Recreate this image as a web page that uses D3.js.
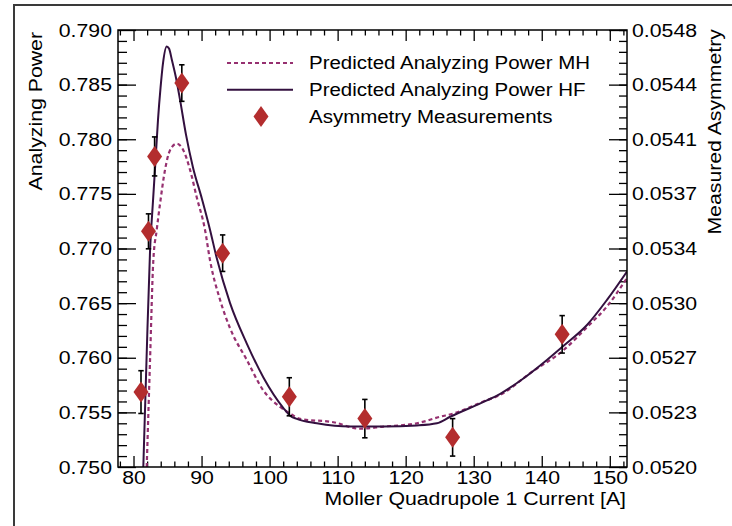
<!DOCTYPE html>
<html lang="en">
<head>
  <meta charset="utf-8">
  <title>Analyzing Power vs Moller Quadrupole Current</title>
  <script src="https://cdn.jsdelivr.net/npm/d3@7"></script>
  <style>
    body { margin: 0; background: #fff; }
    text { font-family: "Liberation Sans", Arial, sans-serif; fill: #000; }
  </style>
</head>
<body>
  <script>
    // Predicted analyzing power, MH model (current [A] / analyzing power)
    let mhCurrent = [81.94, 82.43, 82.91, 83.41, 83.90, 84.63, 85.37, 86.35, 87.32, 88.31, 89.29,
      90.51, 91.25, 92.72, 94.19, 96.65, 99.09, 101.54, 103.01, 104.49, 109.38, 113.31, 116.74,
      121.65, 125.07, 127.03, 131.44, 133.90, 138.31, 143.21, 146.65, 149.59, 152.53];
    let mhPower = [0.7500, 0.7598, 0.7689, 0.7717, 0.7741, 0.7772, 0.7790, 0.7796, 0.7790, 0.7772, 0.7747,
      0.7717, 0.7689, 0.7653, 0.7627, 0.7598, 0.7570, 0.7555, 0.7549, 0.7544, 0.7541, 0.7535, 0.7537,
      0.7540, 0.7546, 0.7549, 0.7560, 0.7566, 0.7586, 0.7607, 0.7628, 0.7647, 0.7673];
    // Predicted analyzing power, HF model
    let hfCurrent = [81.44, 81.91, 82.43, 82.87, 83.24, 83.60, 83.97, 84.34, 84.88, 85.22, 85.66, 86.25,
      86.84, 87.72, 88.75, 90.03, 91.25, 92.24, 94.19, 96.65, 99.09, 102.03, 103.01, 104.00, 106.94,
      111.84, 116.74, 121.65, 124.59, 126.54, 131.94, 133.90, 136.84, 140.76, 143.21, 146.65, 149.59, 152.53];
    let hfPower = [0.7500, 0.7598, 0.7698, 0.7744, 0.7781, 0.7818, 0.7847, 0.7870, 0.7885, 0.7883, 0.7872, 0.7856,
      0.7836, 0.7804, 0.7774, 0.7746, 0.7717, 0.7691, 0.7650, 0.7613, 0.7582, 0.7554, 0.7547, 0.7544, 0.7540,
      0.7537, 0.7537, 0.7538, 0.7540, 0.7546, 0.7561, 0.7567, 0.7579, 0.7598, 0.7611, 0.7630, 0.7653, 0.7679];
    // Asymmetry measurements (right axis)
    let measCurrent = [81.1, 82.2, 83.1, 87.1, 93.1, 102.9, 114.0, 126.9, 143.0];
    let measAsym = [0.05248, 0.05351, 0.05399, 0.05446, 0.05337, 0.05245, 0.05231, 0.05219, 0.05285];
    let measErr = [0.000137, 0.000112, 0.000125, 0.000117, 0.000117, 0.000122, 0.000123, 0.000120, 0.000120];

    let xTicks = [80, 90, 100, 110, 120, 130, 140, 150];
    let leftTicks = [0.750, 0.755, 0.760, 0.765, 0.770, 0.775, 0.780, 0.785, 0.790];
    let rightTicks = [0.05200, 0.05235, 0.05270, 0.05305, 0.05340, 0.05375, 0.05410, 0.05445, 0.05480];
    let rightTickLabels = ["0.0520", "0.0523", "0.0527", "0.0530", "0.0534", "0.0537", "0.0541", "0.0544", "0.0548"];
    let legendLabels = ["Predicted Analyzing Power MH", "Predicted Analyzing Power HF", "Asymmetry Measurements"];

    let svgWidth = 732, svgHeight = 526;
    let margins = { left: 118, top: 30, right: 105, bottom: 59 };
    let width = svgWidth - margins.left - margins.right;
    let height = svgHeight - margins.top - margins.bottom;
    let fontSize = 19, sx = 1.12; // text in the picture is a bit wide
    let mhColor = "#963070", hfColor = "#33103f", markColor = "#b32d2e";

    let svg = d3.select("body").append("svg")
      .attr("width", svgWidth)
      .attr("height", svgHeight);

    // outer canvas frame
    svg.append("path")
      .attr("d", "M14,526 V5 H732")
      .attr("fill", "none").attr("stroke", "#3a3a3a").attr("stroke-width", 2);

    let container = svg.append("g")
      .attr("transform", `translate(${margins.left}, ${margins.top})`);

    // scales
    let xScale = d3.scaleLinear().domain([77.72, 152.53]).range([0, width]);
    let yScale = d3.scaleLinear().domain([0.750, 0.790]).range([height, 0]);
    let yRight = d3.scaleLinear().domain([0.0520, 0.0548]).range([height, 0]);

    // stretch tick label text horizontally around its anchor
    function widen(g) {
      g.selectAll("text").each(function () {
        let t = d3.select(this);
        let x = +t.attr("x") || 0;
        t.attr("x", null)
          .attr("transform", `translate(${x},0) scale(${sx},1)`)
          .style("font-size", fontSize + "px")
          .style("font-family", '"Liberation Sans", Arial, sans-serif');
      });
      g.select(".domain").remove();
      g.selectAll("line").attr("stroke", "#000").attr("stroke-width", 1.3);
    }

    // left axis: major + minor, ticks pointing inward
    container.append("g")
      .call(d3.axisLeft(yScale).tickValues(leftTicks).tickFormat(d3.format(".3f"))
        .tickSizeInner(-18).tickSizeOuter(0).tickPadding(6))
      .call(widen);
    container.append("g")
      .call(d3.axisLeft(yScale).tickValues(d3.range(0.751, 0.7895, 0.001)).tickFormat("")
        .tickSizeInner(-9).tickSizeOuter(0))
      .call(widen);

    // right axis
    container.append("g")
      .attr("transform", `translate(${width}, 0)`)
      .call(d3.axisRight(yRight).tickValues(rightTicks).tickFormat((d, i) => rightTickLabels[i])
        .tickSizeInner(-18).tickSizeOuter(0).tickPadding(5))
      .call(widen);
    container.append("g")
      .attr("transform", `translate(${width}, 0)`)
      .call(d3.axisRight(yRight).tickValues(d3.range(0, 41).map(i => 0.0520 + i * 0.00007)).tickFormat("")
        .tickSizeInner(-8).tickSizeOuter(0))
      .call(widen);

    // bottom and top axes
    let xMinor = d3.range(78, 153, 2).filter(v => v % 10 !== 0);
    container.append("g")
      .attr("transform", `translate(0, ${height})`)
      .call(d3.axisBottom(xScale).tickValues(xTicks).tickSizeInner(-11).tickSizeOuter(0).tickPadding(3.5))
      .call(widen);
    container.append("g")
      .attr("transform", `translate(0, ${height})`)
      .call(d3.axisBottom(xScale).tickValues(xMinor).tickFormat("").tickSizeInner(-5.5).tickSizeOuter(0))
      .call(widen);
    container.append("g")
      .call(d3.axisTop(xScale).tickValues(xTicks).tickFormat("").tickSizeInner(-11).tickSizeOuter(0))
      .call(widen);
    container.append("g")
      .call(d3.axisTop(xScale).tickValues(xMinor).tickFormat("").tickSizeInner(-5.5).tickSizeOuter(0))
      .call(widen);

    // clip for the curves
    svg.append("clipPath").attr("id", "plotClip")
      .append("rect").attr("width", width).attr("height", height);
    let plot = container.append("g").attr("clip-path", "url(#plotClip)");

    let line = d3.line().curve(d3.curveMonotoneX);
    let mhPts = mhCurrent.map((c, i) => [xScale(c), yScale(mhPower[i])]);
    let hfPts = hfCurrent.map((c, i) => [xScale(c), yScale(hfPower[i])]);

    plot.append("path").attr("d", line(mhPts))
      .attr("fill", "none").attr("stroke", mhColor)
      .attr("stroke-width", 2.2).attr("stroke-dasharray", "4,3");
    plot.append("path").attr("d", line(hfPts))
      .attr("fill", "none").attr("stroke", hfColor).attr("stroke-width", 2);

    // error bars and diamonds
    let diamond = "M0,-10.5 L7.5,0 L0,10.5 L-7.5,0 Z";
    let meas = measCurrent.map((c, i) => ({ c: c, a: measAsym[i], e: measErr[i] }));
    let bars = container.selectAll(".err").data(meas).join("g").attr("class", "err");
    bars.append("line")
      .attr("x1", d => xScale(d.c)).attr("x2", d => xScale(d.c))
      .attr("y1", d => yRight(d.a - d.e)).attr("y2", d => yRight(d.a + d.e))
      .attr("stroke", "#000").attr("stroke-width", 1.6);
    [-1, 1].forEach(s => {
      bars.append("line")
        .attr("x1", d => xScale(d.c) - 2.7).attr("x2", d => xScale(d.c) + 2.7)
        .attr("y1", d => yRight(d.a + s * d.e)).attr("y2", d => yRight(d.a + s * d.e))
        .attr("stroke", "#000").attr("stroke-width", 1.6);
    });
    container.selectAll(".point").data(meas).join("path")
      .attr("class", "point")
      .attr("d", diamond)
      .attr("transform", d => `translate(${xScale(d.c)}, ${yRight(d.a)})`)
      .attr("fill", markColor);

    // plot frame
    container.append("rect")
      .attr("width", width).attr("height", height)
      .attr("fill", "none").attr("stroke", "#000").attr("stroke-width", 1.5);

    // legend
    let legend = svg.append("g");
    legendLabels.forEach((label, i) => {
      let rowY = 63 + i * 26.8;
      if (i < 2) {
        legend.append("line")
          .attr("x1", 227).attr("x2", 293).attr("y1", rowY).attr("y2", rowY)
          .attr("stroke", i === 0 ? mhColor : hfColor)
          .attr("stroke-width", i === 0 ? 2.2 : 2)
          .attr("stroke-dasharray", i === 0 ? "4,3" : null);
      } else {
        legend.append("path").attr("d", diamond)
          .attr("transform", `translate(261, ${rowY})`)
          .attr("fill", markColor);
      }
      legend.append("text")
        .attr("transform", `translate(309, ${rowY}) scale(${sx},1)`)
        .attr("dy", "0.35em")
        .style("font-size", "18.3px")
        .text(label);
    });

    // axis titles
    svg.append("text")
      .attr("transform", `translate(${margins.left + width - 1}, 504.5) scale(${sx},1)`)
      .attr("text-anchor", "end")
      .style("font-size", fontSize + "px")
      .text("Moller Quadrupole 1 Current [A]");
    svg.append("text")
      .attr("transform", `translate(41.5, 32) rotate(-90) scale(${sx},1)`)
      .attr("text-anchor", "end")
      .style("font-size", fontSize + "px")
      .text("Analyzing Power");
    svg.append("text")
      .attr("transform", `translate(721, 29) rotate(-90) scale(${sx},1)`)
      .attr("text-anchor", "end")
      .style("font-size", fontSize + "px")
      .text("Measured Asymmetry");
  </script>
</body>
</html>
